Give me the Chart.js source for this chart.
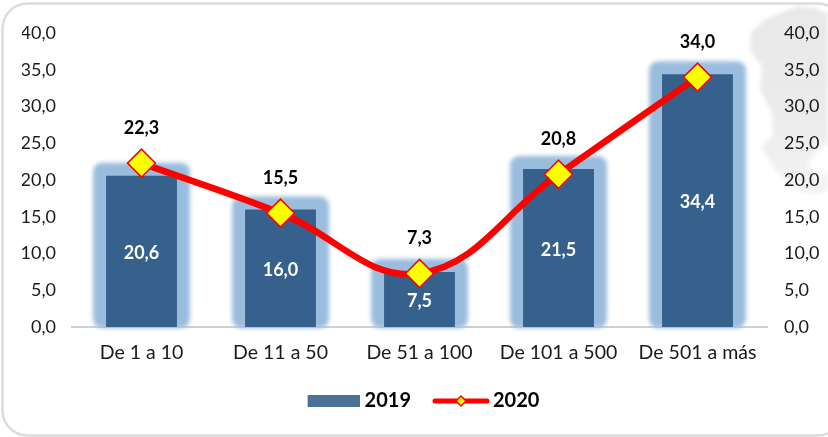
<!DOCTYPE html>
<html><head><meta charset="utf-8">
<style>
html,body{margin:0;padding:0;background:#fff;width:828px;height:437px;overflow:hidden}
#wrap{position:relative;width:828px;height:437px}
#bg{position:absolute;left:0;top:0}
canvas{position:absolute;left:0;top:0}
</style>
<script src="https://cdn.jsdelivr.net/npm/chart.js@4"></script>
</head><body>
<div id="wrap">
<svg id="bg" width="828" height="437">
<defs><filter id="s"><feGaussianBlur stdDeviation="2"/></filter>
<linearGradient id="g" x1="0" y1="0" x2="0" y2="1"><stop offset="0" stop-color="#e8e8e8"/><stop offset="0.55" stop-color="#ebebeb"/><stop offset="1" stop-color="#f4f4f4"/></linearGradient></defs>
<path filter="url(#s)" fill="url(#g)" d="M764 20L780 13L800 6L815 8L828 14L828 143L818 150L808 163L816 178L828 172L828 190L817 195L795 190L775 170L761 147L773 135L772 113L760 90L762 67L750 50L751 33Z"/>
<rect x="2.5" y="3.5" width="840" height="432" rx="25" ry="25" fill="none" stroke="#dcdcdc" stroke-width="2.5"/>
</svg>
<canvas id="c" width="828" height="437"></canvas>
</div>
<script>
const categories = ["De 1 a 10","De 11 a 50","De 51 a 100","De 101 a 500","De 501 a más"];
const values2019 = [20.6,16.0,7.5,21.5,34.4];
const values2020 = [22.3,15.5,7.3,20.8,34.0];
const seriesNames = ["2019","2020"];
const axisMin = 0, axisMax = 40, axisStep = 5;

const FONT = "Lato, 'Open Sans', sans-serif";
const fmt = v => v.toFixed(1).replace('.', ',');

function swatchBar(){
  const c=document.createElement('canvas');c.width=62;c.height=12;
  const x=c.getContext('2d');x.fillStyle='#4c7096';x.fillRect(10,0,52,12);return c;
}
function swatchLine(){
  const c=document.createElement('canvas');c.width=66;c.height=16;
  const x=c.getContext('2d');
  x.strokeStyle='#ff0000';x.lineWidth=5;x.lineCap='round';
  x.beginPath();x.moveTo(11,8);x.lineTo(63,8);x.stroke();
  x.fillStyle='#ffff00';x.lineWidth=1.5;x.beginPath();
  x.moveTo(37,3);x.lineTo(42,8);x.lineTo(37,13);x.lineTo(32,8);x.closePath();x.fill();x.stroke();
  return c;
}

const glow = {
  id:'glow',
  beforeDatasetsDraw(chart){
    const {ctx} = chart, meta = chart.getDatasetMeta(1);
    ctx.save();
    ctx.filter='blur(2px)';
    ctx.fillStyle='#9abcdd';
    meta.data.forEach(b=>{
      const p=b.getProps(['x','y','base','width'],true);
      const g=13;
      ctx.beginPath();
      ctx.roundRect(p.x-p.width/2-g,p.y-g,p.width+2*g,p.base-p.y+g+1,9);
      ctx.fill();
    });
    ctx.restore();
  }
};
const labels = {
  id:'valueLabels',
  afterDatasetsDraw(chart){
    const {ctx} = chart;
    ctx.save();
    ctx.textAlign='center';ctx.textBaseline='middle';
    ctx.font='bold 18px '+FONT;
    ctx.fillStyle='#ffffff';
    chart.getDatasetMeta(1).data.forEach((b,i)=>{
      const p=b.getProps(['x','y','base'],true);
      ctx.fillText(fmt(values2019[i]),p.x,(p.y+p.base)/2+2);
    });
    ctx.fillStyle='#000000';
    chart.getDatasetMeta(0).data.forEach((pt,i)=>{
      const p=pt.getProps(['x','y'],true);
      ctx.fillText(fmt(values2020[i]),p.x,p.y-35);
    });
    ctx.restore();
  }
};
const tick = {color:'#1a1a1a',font:{family:FONT,size:18},
  callback:v=>fmt(v),stepSize:axisStep};

new Chart(document.getElementById('c'),{
  data:{labels:categories,datasets:[
    {type:'line',label:seriesNames[1],data:values2020,order:1,yAxisID:'y',
     borderColor:'#ff0000',borderWidth:6.5,tension:0.4,clip:false,
     pointStyle:'rectRot',pointRadius:14,pointHoverRadius:14,
     pointBackgroundColor:'#ffff00',pointBorderColor:'#ff0000',pointBorderWidth:1.5},
    {type:'bar',label:seriesNames[0],data:values2019,order:2,yAxisID:'y',
     backgroundColor:'#36618c',categoryPercentage:1,barPercentage:0.51}
  ]},
  options:{
    responsive:false,animation:false,
    layout:{padding:{top:33,left:22,right:8,bottom:16}},
    scales:{
      x:{grid:{display:false,drawTicks:false},border:{color:'#d0d0d0',width:2},
         ticks:{color:'#1a1a1a',font:{family:FONT,size:19.5},padding:14,maxRotation:0},
         afterFit(s){s.height-=7.5}},
      y:{position:'left',min:axisMin,max:axisMax,grid:{display:false,drawTicks:false},border:{display:false},
         ticks:{...tick,padding:16},afterFit(s){s.width=50}},
      y2:{position:'right',min:axisMin,max:axisMax,grid:{display:false,drawTicks:false},border:{display:false},
         ticks:{...tick,padding:17},afterFit(s){s.width=53}}
    },
    plugins:{
      tooltip:{enabled:false},
      legend:{position:'bottom',
        labels:{usePointStyle:true,pointStyleWidth:52,boxHeight:14,padding:20,color:'#000',
          font:{family:FONT,size:20,weight:'bold'},
          generateLabels(){return [
            {text:seriesNames[0],pointStyle:swatchBar(),fillStyle:'#4c7096',strokeStyle:'#4c7096',lineWidth:0,datasetIndex:1},
            {text:seriesNames[1],pointStyle:swatchLine(),fillStyle:'#ff0000',strokeStyle:'#ff0000',lineWidth:0,datasetIndex:0}
          ]}}}
    }
  },
  plugins:[glow,labels]
});
</script>
</body></html>
